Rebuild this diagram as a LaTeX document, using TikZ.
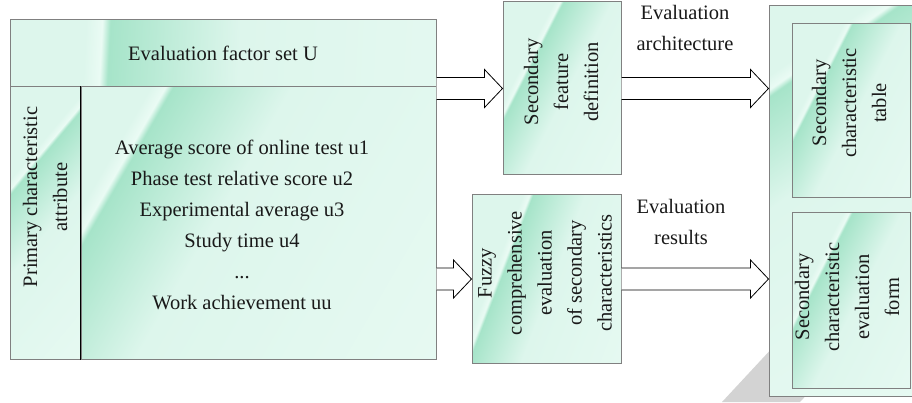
\documentclass[tikz,border=0pt]{standalone}
\usepackage{fontspec}
\setmainfont{Liberation Serif}
\usetikzlibrary{positioning, calc, shadings}

\definecolor{mintL}{HTML}{DDF6EC}
\definecolor{mintD}{HTML}{A6E4C9}
\definecolor{mintW}{HTML}{EAFBF4}
\definecolor{frame}{HTML}{808080}
\definecolor{shadowgray}{HTML}{D3D3D3}

\pgfdeclarehorizontalshading{streak}{100bp}{color(0bp)=(mintL); color(33bp)=(mintL); color(35bp)=(mintW); color(36bp)=(mintD); color(52bp)=(mintL); color(100bp)=(mintW)}
\pgfdeclarehorizontalshading{streakfar}{100bp}{color(0bp)=(mintL); color(25bp)=(mintL); color(27bp)=(mintW); color(28bp)=(mintD); color(44bp)=(mintL); color(100bp)=(mintW)}

\newcommand{\blockarrow}[2]{%
\filldraw[barrow] ($(#1)+(0,11)$) -- ($(#2)+(-18,11)$) -- ($(#2)+(-18,19)$) -- (#2) -- ($(#2)+(-18,-19)$) -- ($(#2)+(-18,-11)$) -- ($(#1)+(0,-11)$);}

\begin{document}
\begin{tikzpicture}[
			x = 1pt, y = 1pt,
			box/.style = {draw = frame, line width = 1pt, shading = streak, shading angle = #1, inner sep = 0pt},
			box/.default = 0,
			far/.style = {shading = streakfar},
			txt/.style = {font = \fontsize{20.5}{31}\selectfont, align = center, text = black!90},
			vtxt/.style = {txt, rotate = 90, font = \fontsize{20.5}{30}\selectfont},
			barrow/.style = {draw = black, fill = white, line width = 0.8pt, line join = miter},
		]
		\useasboundingbox (0,0) rectangle (912,402);
		\clip (0,0) rectangle (912,402);

		% shadow behind the right panel
		\fill[shadowgray] (722,0) -- (815,100) -- (893,100) -- (800,0) -- cycle;

		% factor set
		\node[box=-3, minimum width = 426, minimum height = 67, txt](hdr) at (223,348.5){Evaluation factor set U};
		\node[box=-40, minimum width = 71, minimum height = 272](prim) at (45.5,179){};
		\node[box=-30, far, minimum width = 355, minimum height = 272](items) at (258.5,179){};
		\draw[black, line width = 1.3pt](items.north west)--(items.south west);

		% middle and right boxes
		\node[box=-27, minimum width = 118, minimum height = 173](sfd) at (562,313.5){};
		\node[box=-21, minimum width = 149, minimum height = 168](fuzzy) at (546.5,123){};
		\node[box=-55, far, minimum width = 147, minimum height = 390](outer) at (842.5,201){};
		\node[box=-27, minimum width = 118, minimum height = 174](tbl) at (851,291){};
		\node[box=-27, minimum width = 118, minimum height = 176](form) at (851,102){};

		% texts
		\node[txt](list) at (242,177.5){Average score of online test u1\\Phase test relative score u2\\Experimental average u3\\Study time u4\\...\\Work achievement uu};
		\node[vtxt](primtext) at (45,205){Primary characteristic\\attribute};
		\node[vtxt](sfdtext) at (561,320){Secondary\\feature\\definition};
		\node[vtxt](fuzzytext) at (545,129){Fuzzy\\comprehensive\\evaluation\\of secondary\\characteristics};
		\node[vtxt](tbltext) at (849,299){Secondary\\characteristic\\table};
		\node[vtxt](formtext) at (847,105){Secondary\\characteristic\\evaluation\\form};
		\node[txt](archlabel) at (685,374){Evaluation\\architecture};
		\node[txt](reslabel) at (681,180){Evaluation\\results};

		% block arrows
		\coordinate(a1) at (sfd.west -| items.east);
		\coordinate(a2) at (sfd.east -| outer.west);
		\coordinate(a3) at (fuzzy.west -| items.east);
		\coordinate(a4) at (fuzzy.east -| outer.west);
		\blockarrow{a1}{sfd.west}
		\blockarrow{sfd.east}{a2}
		\blockarrow{a3}{fuzzy.west}
		\blockarrow{fuzzy.east}{a4}

	\end{tikzpicture}
\end{document}
